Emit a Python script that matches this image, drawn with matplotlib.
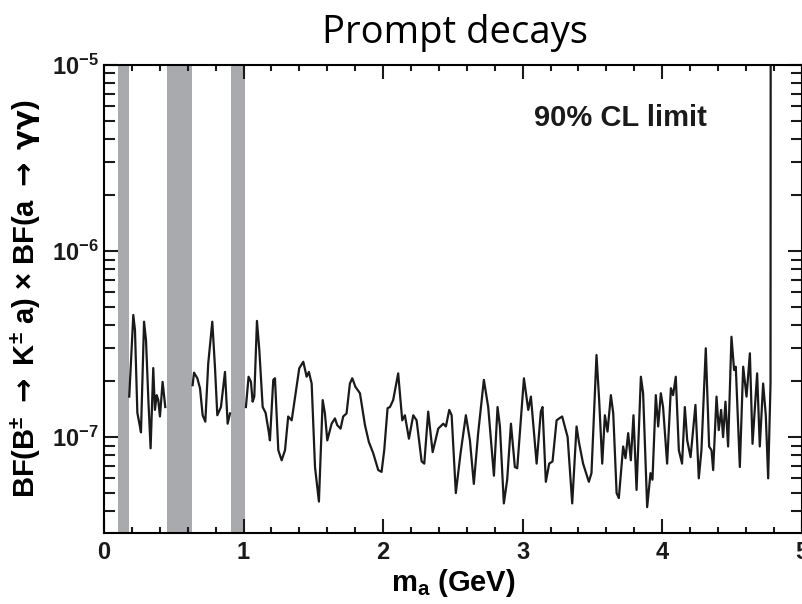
import numpy as np
import matplotlib
matplotlib.use('Agg')
import matplotlib.pyplot as plt
from matplotlib.ticker import MultipleLocator, LogLocator, NullFormatter, FixedLocator, FixedFormatter

plt.rcParams['font.family'] = ['Liberation Sans', 'DejaVu Sans']
plt.rcParams['font.weight'] = 'bold'
plt.rcParams['mathtext.fontset'] = 'custom'
plt.rcParams['mathtext.rm'] = 'Liberation Sans:bold'
plt.rcParams['mathtext.it'] = 'Liberation Sans:bold'
plt.rcParams['mathtext.bf'] = 'Liberation Sans:bold'
plt.rcParams['mathtext.sf'] = 'DejaVu Sans'
plt.rcParams['mathtext.default'] = 'rm'

# excluded mass regions (GeV)
veto_lo = [0.10, 0.45, 0.91]
veto_hi = [0.18, 0.63, 1.01]

# 90% CL upper limit, units of 1e-7 (nan = gap at vetoed regions)
mass = [0.181, 0.210, 0.222, 0.239, 0.253, 0.265, 0.287, 0.301, 0.318, 0.334,
        0.353, 0.365, 0.378, 0.389, 0.401, 0.420, 0.439, 0.5,
        0.635, 0.645, 0.669, 0.688, 0.707, 0.726, 0.747, 0.776, 0.795, 0.812,
        0.838, 0.867, 0.886, 0.903, 0.95,
        1.017, 1.036, 1.053, 1.065, 1.077, 1.096, 1.113, 1.137, 1.158, 1.182,
        1.189, 1.213, 1.225, 1.249, 1.273, 1.297, 1.320, 1.345, 1.363, 1.399,
        1.428, 1.452, 1.468, 1.488, 1.512, 1.540, 1.567, 1.583, 1.600, 1.631,
        1.655, 1.671, 1.695, 1.714, 1.738, 1.762, 1.779, 1.802, 1.834, 1.870,
        1.898, 1.929, 1.965, 1.989, 2.008, 2.032, 2.049, 2.072, 2.108, 2.137,
        2.156, 2.185, 2.216, 2.240, 2.276, 2.295, 2.323, 2.355, 2.395, 2.431,
        2.450, 2.474, 2.491, 2.521, 2.555, 2.593, 2.622, 2.650, 2.681, 2.722,
        2.753, 2.794, 2.820, 2.837, 2.865, 2.889, 2.916, 2.944, 2.961, 3.009,
        3.040, 3.059, 3.100, 3.130, 3.142, 3.166, 3.190, 3.214, 3.243, 3.262,
        3.283, 3.322, 3.355, 3.386, 3.403, 3.433, 3.474, 3.493, 3.529, 3.548,
        3.570, 3.589, 3.608, 3.632, 3.649, 3.673, 3.689, 3.720, 3.737, 3.756,
        3.775, 3.794, 3.816, 3.847, 3.863, 3.892, 3.916, 3.930, 3.954, 3.971,
        3.990, 4.006, 4.035, 4.062, 4.078, 4.097, 4.119, 4.142, 4.162, 4.179,
        4.203, 4.238, 4.262, 4.281, 4.312, 4.336, 4.353, 4.365, 4.389, 4.405,
        4.422, 4.436, 4.453, 4.472, 4.496, 4.515, 4.527, 4.556, 4.580, 4.604,
        4.628, 4.647, 4.680, 4.699, 4.723, 4.742, 4.759, 4.776, 4.777]
limit = [1.65, 4.53, 3.76, 1.35, 1.19, 1.06, 4.17, 3.32, 1.58, 0.87,
         2.35, 1.40, 1.68, 1.58, 1.29, 1.98, 1.45, np.nan,
         1.90, 2.22, 2.07, 1.83, 1.31, 1.21, 2.49, 4.17, 2.39, 1.31,
         1.45, 2.24, 1.18, 1.34, np.nan,
         1.45, 2.11, 1.98, 1.55, 1.65, 4.21, 2.94, 1.45, 1.35, 1.05,
         0.96, 2.03, 2.07, 0.85, 0.75, 0.85, 1.29, 1.23, 1.52, 2.34,
         2.54, 2.11, 2.24, 1.94, 0.69, 0.45, 1.58, 1.34, 0.96, 1.18,
         1.26, 1.16, 1.11, 1.29, 1.34, 1.94, 2.07, 1.86, 1.72, 1.16,
         0.94, 0.82, 0.665, 0.65, 0.85, 1.43, 1.45, 1.58, 2.20, 1.23,
         1.31, 0.98, 1.31, 1.23, 0.74, 0.72, 1.37, 0.83, 1.11, 1.18,
         1.14, 1.40, 1.31, 0.50, 0.82, 1.31, 0.96, 0.56, 1.05, 2.03,
         1.45, 0.62, 1.45, 1.14, 0.44, 0.59, 1.18, 0.69, 0.68, 2.07,
         1.40, 1.65, 0.72, 1.37, 1.45, 0.575, 0.72, 0.74, 1.23, 1.26,
         1.29, 1.00, 0.44, 1.14, 0.94, 0.72, 0.575, 0.64, 2.76, 1.58,
         0.72, 1.31, 1.07, 1.68, 1.34, 0.50, 0.47, 0.89, 0.77, 1.05,
         0.75, 1.31, 0.52, 2.11, 1.72, 0.42, 0.64, 0.59, 1.68, 1.14,
         1.72, 1.45, 0.72, 1.83, 1.68, 2.11, 0.85, 0.72, 1.45, 0.96,
         0.78, 1.49, 0.60, 0.85, 3.00, 0.89, 0.85, 0.665, 1.65, 1.09,
         1.40, 1.00, 1.55, 0.89, 3.46, 2.29, 2.39, 0.69, 2.39, 1.65,
         2.82, 0.92, 2.20, 0.89, 1.94, 1.31, 0.60, 1.94, 100.0]

fig = plt.figure(figsize=(8.03, 6.04), dpi=100)
ax = fig.add_axes([0.1295, 0.1175, 0.869, 0.775])

for lo, hi in zip(veto_lo, veto_hi):
    ax.axvspan(lo, hi, color='#a9aaae', lw=0, zorder=1)

ax.plot(mass, np.array(limit) * 1e-7, color='#1a1a1a', lw=1.6, zorder=2)

ax.set_yscale('log')
ax.set_xlim(0, 5)
ax.set_ylim(3.05e-8, 1e-5)

ax.xaxis.set_major_locator(MultipleLocator(1))
ax.xaxis.set_minor_locator(MultipleLocator(0.2))
ax.yaxis.set_major_locator(FixedLocator([1e-7, 1e-6, 1e-5]))
ax.yaxis.set_major_formatter(FixedFormatter([r'$10^{-7}$', r'$10^{-6}$', r'$10^{-5}$']))
ax.yaxis.set_minor_locator(LogLocator(base=10, subs=np.arange(2, 10)))
ax.yaxis.set_minor_formatter(NullFormatter())

ax.tick_params(axis='both', which='both', direction='in', top=True, right=True,
               width=1.5, labelsize=17, colors='#1a1a1a')
ax.tick_params(axis='x', which='major', length=10, pad=6)
ax.tick_params(axis='x', which='minor', length=4.5)
ax.tick_params(axis='y', which='major', length=10, pad=4)
ax.tick_params(axis='y', which='minor', length=8)
for sp in ax.spines.values():
    sp.set_linewidth(1.5)

ax.set_xlabel(r'm$_{a}$ (GeV)', fontsize=21, fontweight='bold', labelpad=2)
ax.set_ylabel(r'BF(B$^{\pm}$ $\mathsf{\rightarrow}$ K$^{\pm}$ a) × '
              r'BF(a $\mathsf{\rightarrow}$ $\mathsf{\gamma\gamma}$)',
              fontsize=21, fontweight='bold', labelpad=6)

ax.text(4.32, 5.2e-6, '90% CL limit', ha='right', va='center', fontsize=21,
        fontweight='bold', color='#1a1a1a')

fig.text(0.567, 0.945, 'Prompt decays', ha='center', va='center', fontsize=27.5,
         fontweight='normal', family=['Open Sans', 'DejaVu Sans'])

fig.savefig('out.png', dpi=100)
